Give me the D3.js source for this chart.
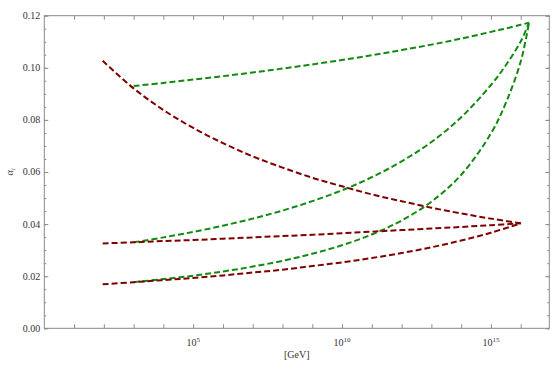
<!DOCTYPE html>
<html>
<head>
<meta charset="utf-8">
<script src="https://cdn.jsdelivr.net/npm/d3@7"></script>
<style>
  body { margin: 0; background: #fff; }
  svg text { font-family: "Liberation Serif", "DejaVu Serif", serif; fill: #333; }
  .frame line, .frame path { stroke: #8a8a8a; }
</style>
</head>
<body>
<div id="chart"></div>
<script>
// energies in GeV
var redE   = [91.2, 1e3, 1e4, 1e5, 1e6, 1e7, 1e8, 1e9, 1e10, 1e11, 1e12, 1e13, 1e14, 1e15, 1e16]
var greenE = [1e3, 1e4, 1e5, 1e6, 1e7, 1e8, 1e9, 1e10, 1e11, 1e12, 1e13, 1e14, 1e15, 3.16e15, 1e16, 1.9e16]

// couplings
var red1 = [0.1027, 0.0921, 0.0838, 0.0769, 0.0711, 0.0660, 0.0617, 0.0578, 0.0545, 0.0514, 0.0488, 0.0463, 0.0441, 0.0421, 0.0403]
var red2 = [0.0326, 0.0330, 0.0335, 0.0339, 0.0344, 0.0349, 0.0354, 0.0359, 0.0365, 0.0371, 0.0377, 0.0383, 0.0389, 0.0396, 0.0403]
var red3 = [0.0169, 0.0177, 0.0185, 0.0193, 0.0203, 0.0214, 0.0225, 0.0239, 0.0253, 0.0270, 0.0289, 0.0311, 0.0337, 0.0367, 0.0403]

var green1 = [0.0930, 0.0942, 0.0955, 0.0968, 0.0982, 0.0997, 0.1013, 0.1030, 0.1048, 0.1068, 0.1089, 0.1112, 0.1138, 0.1151, 0.1165, 0.1173]
var green2 = [0.0330, 0.0349, 0.0370, 0.0394, 0.0421, 0.0452, 0.0488, 0.0530, 0.0580, 0.0641, 0.0715, 0.0810, 0.0934, 0.1010, 0.1101, 0.1173]
var green3 = [0.0177, 0.0189, 0.0202, 0.0218, 0.0237, 0.0259, 0.0286, 0.0319, 0.0360, 0.0414, 0.0486, 0.0589, 0.0748, 0.0865, 0.1024, 0.1173]

var yTicks = [0, 0.02, 0.04, 0.06, 0.08, 0.10, 0.12]
var xLabelExp = [5, 10, 15]

var W = 554, H = 372
var margin = { top: 15.7, right: 4.7, bottom: 43.7, left: 44.3 }
var width = W - margin.left - margin.right
var height = H - margin.top - margin.bottom

var svg = d3.select('#chart').append('svg')
    .attr('width', W)
    .attr('height', H)

var g = svg.append('g')
    .attr('transform', 'translate(' + margin.left + ',' + margin.top + ')')

var xScale = d3.scaleLog().domain([1, Math.pow(10, 16.96)]).range([0, width])
var yScale = d3.scaleLinear().domain([0, 0.12]).range([height, 0])

var decades = d3.range(1, 17).map(function (k) { return Math.pow(10, k) })
var minorY = d3.range(0, 0.1201, 0.005)

// frame
var frame = g.append('g').attr('class', 'frame')
frame.append('rect')
    .attr('width', width).attr('height', height)
    .attr('fill', 'none').attr('stroke', '#8a8a8a').attr('stroke-width', 1)

// bottom + top ticks (pointing inward)
var xb = d3.axisBottom(xScale).tickValues(decades).tickSizeInner(-4).tickSizeOuter(0).tickFormat('')
var xt = d3.axisTop(xScale).tickValues(decades).tickSizeInner(-4).tickSizeOuter(0).tickFormat('')
frame.append('g').attr('transform', 'translate(0,' + height + ')').call(xb)
frame.append('g').call(xt)

// left + right ticks
var yl = d3.axisLeft(yScale).tickValues(minorY).tickSizeOuter(0).tickFormat('')
    .tickSizeInner(-2)
var ylMajor = d3.axisLeft(yScale).tickValues(yTicks).tickSizeOuter(0).tickFormat('').tickSizeInner(-4)
var yr = d3.axisRight(yScale).tickValues(minorY).tickSizeOuter(0).tickFormat('').tickSizeInner(-2)
var yrMajor = d3.axisRight(yScale).tickValues(yTicks).tickSizeOuter(0).tickFormat('').tickSizeInner(-4)
frame.append('g').call(yl)
frame.append('g').call(ylMajor)
frame.append('g').attr('transform', 'translate(' + width + ',0)').call(yr)
frame.append('g').attr('transform', 'translate(' + width + ',0)').call(yrMajor)
frame.selectAll('.domain').remove()

// y tick labels
g.selectAll('.ylab')
    .data(yTicks)
    .enter().append('text')
    .attr('class', 'ylab')
    .attr('x', -4)
    .attr('y', function (d) { return yScale(d) })
    .attr('dy', '0.35em')
    .attr('text-anchor', 'end')
    .style('font-size', '10px')
    .text(function (d) { return d.toFixed(2) })

// x tick labels 10^n
var xl = g.selectAll('.xlab')
    .data(xLabelExp)
    .enter().append('text')
    .attr('class', 'xlab')
    .attr('x', function (d) { return xScale(Math.pow(10, d)) })
    .attr('y', height + 18)
    .attr('text-anchor', 'middle')
    .style('font-size', '10px')
xl.append('tspan').text('10')
xl.append('tspan').attr('dy', -4).style('font-size', '7px').text(function (d) { return d })

// axis labels
g.append('text')
    .attr('x', width / 2)
    .attr('y', height + 30)
    .attr('text-anchor', 'middle')
    .style('font-size', '10px')
    .text('[GeV]')

var ylabel = g.append('text')
    .attr('transform', 'translate(' + (-31) + ',' + (yScale(0.06)) + ') rotate(-90)')
    .attr('text-anchor', 'middle')
    .style('font-size', '10px')
    .style('font-style', 'italic')
ylabel.append('tspan').text('α')
ylabel.append('tspan').attr('dy', 2).style('font-size', '7px').text('i')

// curves
var line = d3.line()
    .x(function (d) { return xScale(d[0]) })
    .y(function (d) { return yScale(d[1]) })
    .curve(d3.curveCatmullRom)

var series = [
  { e: greenE, v: green1, c: '#118a11' },
  { e: greenE, v: green2, c: '#118a11' },
  { e: greenE, v: green3, c: '#118a11' },
  { e: redE, v: red1, c: '#7f0000' },
  { e: redE, v: red2, c: '#7f0000' },
  { e: redE, v: red3, c: '#7f0000' }
]

g.selectAll('.curve')
    .data(series)
    .enter().append('path')
    .attr('class', 'curve')
    .attr('fill', 'none')
    .attr('stroke', function (d) { return d.c })
    .attr('stroke-width', 2)
    .attr('stroke-dasharray', '6,3')
    .attr('d', function (d) { return line(d.e.map(function (x, i) { return [x, d.v[i]] })) })
</script>
</body>
</html>
